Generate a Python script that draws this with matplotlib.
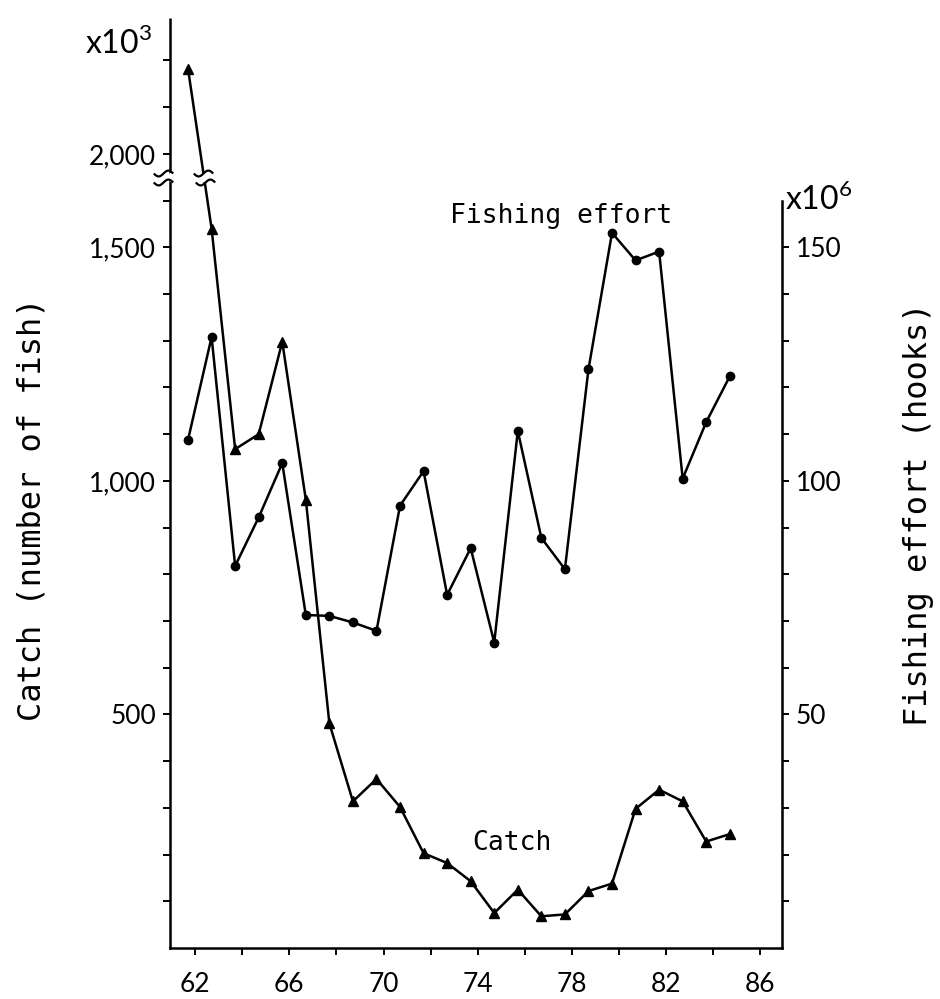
import numpy as np
import matplotlib
matplotlib.use('Agg')
import matplotlib.pyplot as plt
import matplotlib.transforms as mtransforms
from matplotlib.path import Path
from matplotlib.ticker import FixedLocator, FuncFormatter, NullFormatter

# years 1961-1984 (data plotted near mid-year)
years = np.arange(61, 85)
catch = [2182, 1540, 1068, 1100, 1298, 960, 481, 314, 362, 302, 203, 182,
         143, 75, 125, 68, 72, 122, 138, 298, 339, 314, 228, 244]      # x10^3 fish
effort = [108.8, 130.8, 81.8, 92.2, 103.8, 71.3, 71.1, 69.7, 67.9, 94.7, 102.1, 75.6,
          85.6, 65.4, 110.7, 87.8, 81.1, 123.9, 153.1, 147.2, 149.1, 100.5, 112.6, 122.4]  # x10^6 hooks

x_ticks = [62, 66, 70, 74, 78, 82, 86]
catch_ticks = [500, 1000, 1500, 2000]
effort_ticks = [50, 100, 150]

# broken left axis: values between lo and hi squeezed into a small gap
lo, hi, gap = 1640, 1960, 20

def fwd(v):
    v = np.asarray(v, dtype=float)
    return np.where(v <= lo, v, np.where(v >= hi, v - (hi - lo) + gap,
                                         lo + (v - lo) * gap / (hi - lo)))

def inv(t):
    t = np.asarray(t, dtype=float)
    return np.where(t <= lo, t, np.where(t >= lo + gap, t + (hi - lo) - gap,
                                         lo + (t - lo) * (hi - lo) / gap))

mono = 'DejaVu Sans Mono'
sans = 'Lato'
plt.rcParams['font.family'] = sans
plt.rcParams['mathtext.fontset'] = 'custom'
plt.rcParams['mathtext.rm'] = sans

fig = plt.figure(figsize=(9.4, 9.99), dpi=100)
ax = fig.add_axes([0.181, 0.051, 0.651, 0.931])
ax.set_yscale('function', functions=(fwd, inv))
ytop = 2291
ax.set_ylim(0, ytop)
ax.set_xlim(60.94, 86.92)

xs = years + 0.7
lw = 1.8
ax.plot(xs, catch, color='black', lw=lw, marker='^', ms=7, zorder=2)
ax2 = ax.twinx()
ax2.set_ylim(0, float(fwd(ytop)) / 10)
ax2.plot(xs, effort, color='black', lw=lw, marker='o', ms=6, zorder=2)

# hide the catch line inside the break
ax.axhspan(lo, hi, facecolor='white', edgecolor='none', zorder=3)

# squiggle marker for the breaks
tt = np.linspace(-1, 1, 40)
squig = Path(np.column_stack([tt, 0.3 * np.sin(np.pi * tt)]))
sq_kw = dict(marker=squig, ms=14, mfc='none', mec='black', mew=1.6,
             linestyle='none', clip_on=False, zorder=5)
blend = mtransforms.blended_transform_factory(ax.transAxes, ax.transData)
ax.plot([-0.012, -0.012], [lo, hi], transform=blend, **sq_kw)
t1, t2 = float(fwd(catch[0])), float(fwd(catch[1]))
xb = [np.interp(float(fwd(v)), [t2, t1], [xs[1], xs[0]]) for v in (lo, hi)]
ax.plot(xb, [lo, hi], **sq_kw)

# spines
for s in ['top', 'right']:
    ax.spines[s].set_visible(False)
ax.spines['left'].set_bounds(0, lo)
ax.plot([0, 0], [hi, ytop], transform=blend, color='black', lw=1.8,
        clip_on=False, solid_capstyle='butt')
for s in ['top', 'left', 'bottom']:
    ax2.spines[s].set_visible(False)
ax2.spines['right'].set_bounds(0, 160)
for sp in [ax.spines['left'], ax.spines['bottom'], ax2.spines['right']]:
    sp.set_linewidth(1.8)

# ticks
ax.set_xticks(x_ticks)
ax.set_xticks([64, 68, 72, 76, 80, 84], minor=True)
ax.yaxis.set_major_locator(FixedLocator(catch_ticks))
ax.yaxis.set_minor_locator(FixedLocator(
    [v for v in list(range(100, 1700, 100)) + [2100, 2200] if v not in catch_ticks]))
ax.yaxis.set_major_formatter(FuncFormatter(lambda v, p: f"{int(round(v)):,}"))
ax.yaxis.set_minor_formatter(NullFormatter())
ax2.yaxis.set_major_locator(FixedLocator(effort_ticks))
ax2.yaxis.set_minor_locator(FixedLocator(
    [v for v in range(10, 160, 10) if v not in effort_ticks]))
ax2.yaxis.set_minor_formatter(NullFormatter())
for a in (ax, ax2):
    a.tick_params(which='both', direction='out', length=5, width=1.4,
                  labelsize=19, pad=5)
ax.tick_params(axis='x', pad=12)

# text
fig.text(0.162, 0.946, r'x10$^{3}$', fontsize=23, ha='right', va='baseline')
fig.text(0.835, 0.79, r'x10$^{6}$', fontsize=23, ha='left', va='baseline')
ax.text(0.458, 0.78, 'Fishing effort', family=mono, fontsize=19,
        transform=ax.transAxes, ha='left', va='baseline')
ax.text(0.493, 0.105, 'Catch', family=mono, fontsize=19,
        transform=ax.transAxes, ha='left', va='baseline')
fig.text(0.034, 0.49, 'Catch (number of fish)', family=mono, fontsize=23,
         rotation=90, ha='center', va='center')
fig.text(0.977, 0.485, 'Fishing effort (hooks)', family=mono, fontsize=23,
         rotation=90, ha='center', va='center')

fig.savefig('out.png', dpi=100, facecolor='white')
